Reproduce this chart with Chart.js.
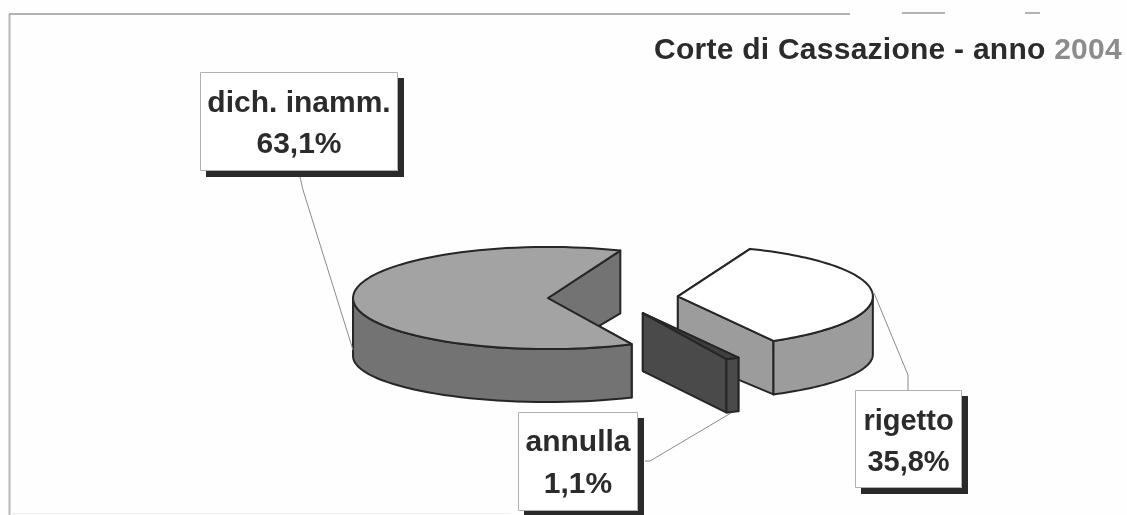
<!DOCTYPE html>
<html>
<head>
<meta charset="utf-8">
<title>Corte di Cassazione - anno 2004</title>
<script src="https://cdn.jsdelivr.net/npm/chart.js@4"></script>
<style>
html, body { margin: 0; padding: 0; background: #fefefe; }
#wrap { position: relative; width: 1127px; height: 515px; }
</style>
</head>
<body>
<div id="wrap"><canvas id="myChart" width="1127" height="515"></canvas></div>
<script>
// values as printed on the labels
var categories = ["dich. inamm.", "rigetto", "annulla"];
var percentages = [63.1, 35.8, 1.1];
var percentLabels = ["63,1%", "35,8%", "1,1%"];

var topColors = ["#a3a3a3", "#ffffff", "#3f3f3f"];
var wallColors = ["#737373", "#9c9c9c", "#4a4a4a"];

// how far each slice is pulled out of the pie, px
var explode = [64, 66, 67];

var SQUASH = 0.262;   // tilt of the pie
var DEPTH = 58;       // thickness
var PERSP = 0.9;      // bottom face a bit flatter than the top one
var INK = "#262626";

// label boxes, leader lines go from the box to the slice
var boxes = [
	{ x: 200, y: 72, w: 198, h: 99, size: 30, base: [112, 153], line: [[300, 177], [303, 190], [353, 350]] },
	{ x: 855, y: 390, w: 107, h: 98, size: 29, base: [430, 471], line: [[908, 390], [908, 375], [874, 293]] },
	{ x: 518, y: 412, w: 120, h: 99, size: 30, base: [451, 493], line: [[645, 461], [650, 461], [731, 413]] }
];

function arcGeom(el, centerY) {
	var p = el.getProps(["x", "y", "startAngle", "endAngle", "outerRadius"], true);
	return {
		cx: p.x,
		cy: centerY + (p.y - centerY) * SQUASH,
		r: p.outerRadius,
		start: p.startAngle,
		end: p.endAngle
	};
}

function topPt(g, a) {
	return [g.cx + Math.cos(a) * g.r, g.cy + Math.sin(a) * g.r * SQUASH];
}
function botPt(g, a) {
	return [g.cx + Math.cos(a) * g.r, g.cy + Math.sin(a) * g.r * SQUASH * PERSP + DEPTH];
}

function poly(ctx, pts, fill) {
	ctx.beginPath();
	pts.forEach(function(p, i) {
		if (i == 0) ctx.moveTo(p[0], p[1]);
		else ctx.lineTo(p[0], p[1]);
	});
	ctx.closePath();
	ctx.fillStyle = fill;
	ctx.fill();
	ctx.strokeStyle = INK;
	ctx.lineWidth = 2;
	ctx.lineJoin = "round";
	ctx.stroke();
}

// radial wall of a slice at angle a
function radialWall(ctx, g, a, fill) {
	poly(ctx, [[g.cx, g.cy], topPt(g, a), botPt(g, a), [g.cx, g.cy + DEPTH]], fill);
}

// rim of the slice, only the part that faces the viewer
function outerWall(ctx, g, fill) {
	var ranges = [[0, Math.PI], [2 * Math.PI, 3 * Math.PI]];
	ranges.forEach(function(rg) {
		var a0 = Math.max(g.start, rg[0]);
		var a1 = Math.min(g.end, rg[1]);
		if (a1 <= a0) return;
		var up = [], down = [];
		for (var i = 0; i <= 40; i++) {
			var a = a0 + (a1 - a0) * i / 40;
			up.push(topPt(g, a));
			down.unshift(botPt(g, a));
		}
		poly(ctx, up.concat(down), fill);
	});
}

var centerY = 0;

var pie3d = {
	id: "pie3d",
	// the offset option of the arc also grows the radius, so move the elements instead
	afterDatasetsUpdate: function(chart) {
		var arcs = chart.getDatasetMeta(0).data;
		centerY = arcs[0].y;
		arcs.forEach(function(el, i) {
			var mid = (el.startAngle + el.endAngle) / 2;
			el.x += Math.cos(mid) * explode[i];
			el.y += Math.sin(mid) * explode[i];
		});
	},
	beforeDatasetsDraw: function(chart) {
		var ctx = chart.ctx;
		chart.getDatasetMeta(0).data.forEach(function(el, i) {
			var g = arcGeom(el, centerY);
			radialWall(ctx, g, g.start, wallColors[i]);
			radialWall(ctx, g, g.end, wallColors[i]);
			outerWall(ctx, g, wallColors[i]);
		});
		// tops are drawn by the library, just flattened
		ctx.save();
		ctx.translate(0, centerY);
		ctx.scale(1, SQUASH);
		ctx.translate(0, -centerY);
	},
	afterDatasetsDraw: function(chart) {
		var ctx = chart.ctx;
		ctx.restore();
		chart.getDatasetMeta(0).data.forEach(function(el) {
			var g = arcGeom(el, centerY);
			ctx.beginPath();
			ctx.moveTo(g.cx, g.cy);
			for (var i = 0; i <= 80; i++) {
				var pt = topPt(g, g.start + (g.end - g.start) * i / 80);
				ctx.lineTo(pt[0], pt[1]);
			}
			ctx.closePath();
			ctx.strokeStyle = INK;
			ctx.lineWidth = 2;
			ctx.lineJoin = "round";
			ctx.stroke();
		});
		drawFrame(ctx);
		drawTitle(ctx);
		drawLabels(ctx);
	}
};

function drawFrame(ctx) {
	ctx.strokeStyle = "#b5b5b5";
	ctx.lineWidth = 2;
	ctx.beginPath();
	ctx.moveTo(9.5, 515); ctx.lineTo(9.5, 14);
	ctx.stroke();
	ctx.strokeStyle = "#9a9a9a";
	ctx.lineWidth = 1.5;
	ctx.beginPath();
	ctx.moveTo(9, 14); ctx.lineTo(850, 14);
	ctx.moveTo(902, 13); ctx.lineTo(945, 13);
	ctx.moveTo(1025, 13); ctx.lineTo(1040, 13);
	ctx.stroke();
	ctx.strokeStyle = "#eeeeee";
	ctx.lineWidth = 1;
	ctx.beginPath();
	ctx.moveTo(10, 513.5); ctx.lineTo(510, 513.5);
	ctx.stroke();
}

function drawTitle(ctx) {
	ctx.textBaseline = "alphabetic";
	ctx.textAlign = "left";
	ctx.font = "bold 30px 'Liberation Sans'";
	ctx.letterSpacing = "0.25px";
	var a = "Corte di Cassazione - anno ";
	ctx.fillStyle = "#2b2b2b";
	ctx.fillText(a, 654, 59);
	ctx.fillStyle = "#8c8c8c";
	ctx.fillText("2004", 654 + ctx.measureText(a).width, 59);
	ctx.letterSpacing = "0px";
}

function drawLabels(ctx) {
	boxes.forEach(function(b, i) {
		ctx.strokeStyle = "#8a8a8a";
		ctx.lineWidth = 1;
		ctx.beginPath();
		b.line.forEach(function(p, k) {
			if (k == 0) ctx.moveTo(p[0], p[1]);
			else ctx.lineTo(p[0], p[1]);
		});
		ctx.stroke();

		ctx.fillStyle = "#2a2a2a";
		ctx.fillRect(b.x + 6, b.y + 6, b.w, b.h);
		ctx.fillStyle = "#ffffff";
		ctx.fillRect(b.x, b.y, b.w, b.h);
		ctx.strokeStyle = "#b0b0b0";
		ctx.strokeRect(b.x + 0.5, b.y + 0.5, b.w - 1, b.h - 1);

		ctx.fillStyle = "#2b2b2b";
		ctx.font = "bold " + b.size + "px 'Liberation Sans'";
		ctx.textAlign = "center";
		ctx.fillText(categories[i], b.x + b.w / 2, b.base[0]);
		ctx.fillText(percentLabels[i], b.x + b.w / 2, b.base[1]);
	});
}

var chart = new Chart(document.getElementById("myChart").getContext("2d"), {
	type: "pie",
	data: {
		labels: categories,
		datasets: [{
			data: percentages,
			backgroundColor: topColors,
			borderWidth: 0,
			clip: false
		}]
	},
	options: {
		responsive: false,
		animation: false,
		radius: 195,
		rotation: 154.6,
		layout: { padding: { left: 97, top: 80 } },
		plugins: { legend: { display: false }, tooltip: { enabled: false } }
	},
	plugins: [pie3d]
});
</script>
</body>
</html>
